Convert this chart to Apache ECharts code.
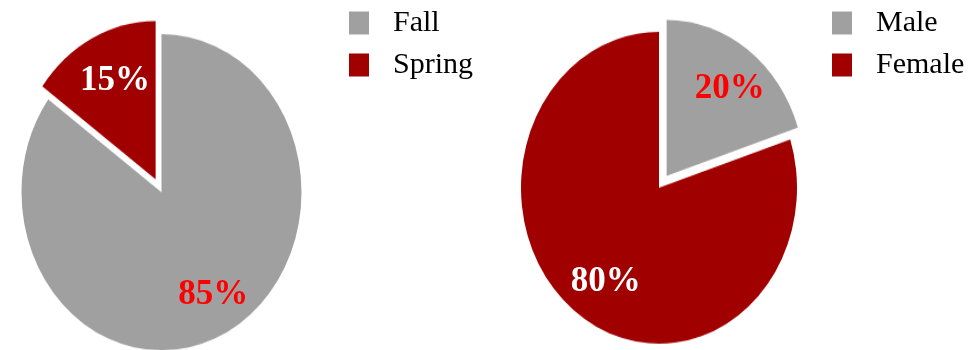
<!DOCTYPE html>
<html>
<head>
<meta charset="utf-8">
<script src="https://cdn.jsdelivr.net/npm/echarts@6/dist/echarts.min.js"></script>
<style>
  html, body { margin: 0; padding: 0; background: #fff; overflow: hidden; }
  #wrap { position: relative; width: 980px; height: 350px; overflow: hidden; }
  #pies { position: absolute; left: 0; top: 0; width: 980px; height: 350px;
          transform: scaleY(1.13); transform-origin: 0 190px; }
  #texts { position: absolute; left: 0; top: 0; width: 980px; height: 350px; }
</style>
</head>
<body>
<div id="wrap">
  <div id="pies"></div>
  <div id="texts"></div>
</div>
<script>
// ---- data ----
const leftCategories = ['Fall', 'Spring'];
const leftValues = [85, 15];
const rightCategories = ['Male', 'Female'];
const rightValues = [20, 80];
const leftExploded = 'Spring';
const rightExploded = 'Male';

// ---- styles ----
const GRAY = '#A0A0A0';
const DARKRED = '#A00000';
const colorMap = { Fall: GRAY, Spring: DARKRED, Male: GRAY, Female: DARKRED };
const labelColorMap = { Fall: '#FF0000', Spring: '#FFFFFF', Male: '#FF0000', Female: '#FFFFFF' };
// label nudges [dx, dy]
const labelNudge = { Fall: [-1, 0], Spring: [12, 4], Male: [-5, 5], Female: [15, 0] };
const FONT = '"Liberation Serif", "Times New Roman", serif';

function nudgePadding(n) {
  const dx = n[0];
  return [0, dx < 0 ? -2 * dx : 0, 0, dx > 0 ? 2 * dx : 0];
}

function items(cats, vals, exploded, transparent) {
  return cats.map((c, i) => {
    const n = labelNudge[c] || [0, 0];
    return {
      name: c,
      value: vals[i],
      selected: c === exploded,
      itemStyle: { color: transparent ? 'rgba(0,0,0,0)' : colorMap[c] },
      label: {
        color: labelColorMap[c],
        padding: nudgePadding(n),
        rich: { s: { fontSize: 1, lineHeight: Math.max(1, 2 * n[1]) } }
      }
    };
  });
}

// Chart A: pie shapes, stretched vertically into ellipses
const pies = echarts.init(document.getElementById('pies'), null, { renderer: 'canvas' });
function pieSeries(cats, vals, exploded, center, radius) {
  return {
    type: 'pie', center: center, radius: radius, startAngle: 90, clockwise: true,
    selectedMode: 'single', selectedOffset: 13, animation: false, silent: true,
    label: { show: false }, labelLine: { show: false }, itemStyle: { borderWidth: 0 },
    emphasis: { disabled: true }, data: items(cats, vals, exploded, false)
  };
}
pies.setOption({
  animation: false,
  series: [
    pieSeries(leftCategories, leftValues, leftExploded, [161.5, 192], 140),
    pieSeries(rightCategories, rightValues, rightExploded, [659, 188], 138)
  ]
});

// Chart B: percentage labels and legends, unstretched
const texts = echarts.init(document.getElementById('texts'), null, { renderer: 'canvas' });
function labelSeries(cats, vals, exploded, center) {
  return {
    type: 'pie', center: center, radius: [0, 226], startAngle: 90, clockwise: true,
    selectedMode: 'single', selectedOffset: 13, animation: false, silent: true,
    emphasis: { disabled: true },
    label: {
      show: true, position: 'inside',
      formatter: p => ((labelNudge[p.name] || [0, 0])[1] > 0 ? '{s| }\n' : '') + p.value + '%',
      fontFamily: FONT, fontWeight: 'bold', fontSize: 35
    },
    labelLine: { show: false },
    data: items(cats, vals, exploded, true)
  };
}
function legendFor(cats, left) {
  return {
    left: left, top: 8, padding: 0, orient: 'vertical', itemWidth: 20, itemHeight: 23,
    itemGap: 12, icon: 'rect', selectedMode: false,
    textStyle: { fontFamily: FONT, fontSize: 30, lineHeight: 30, color: '#000', padding: [0, 0, 0, 19] },
    data: cats.map(c => ({ name: c, itemStyle: { color: colorMap[c], opacity: 1 } }))
  };
}
texts.setOption({
  animation: false,
  legend: [legendFor(leftCategories, 349), legendFor(rightCategories, 832)],
  series: [
    labelSeries(leftCategories, leftValues, leftExploded, [161.5, 192]),
    labelSeries(rightCategories, rightValues, rightExploded, [659, 188])
  ]
});
</script>
</body>
</html>
